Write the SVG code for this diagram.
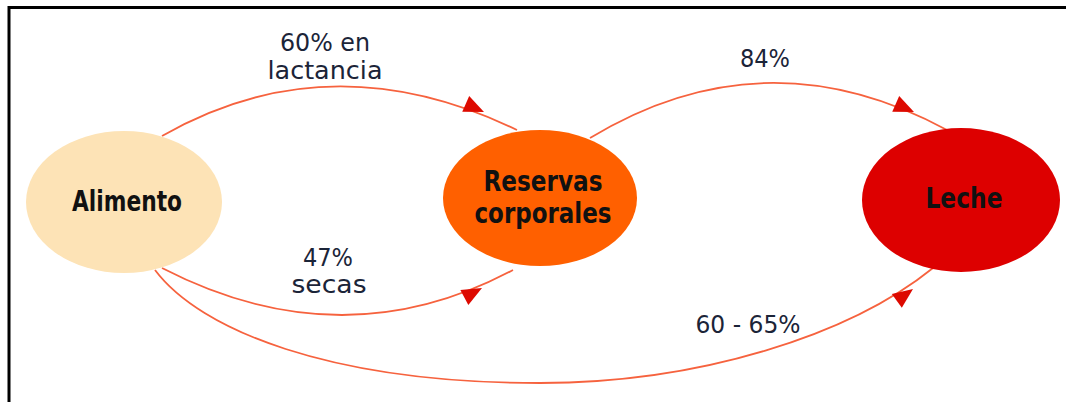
<svg xmlns="http://www.w3.org/2000/svg" xmlns:xlink="http://www.w3.org/1999/xlink" width="1066" height="402" viewBox="0 0 1066 402">
  <style>
    .frame { stroke: #000; stroke-width: 3; fill: none; }
    .conn { fill: none; stroke: #F6623E; stroke-width: 1.8; }
    .ah { fill: #DD0A00; }
    .lbl { font-family: "DejaVu Sans Condensed", "DejaVu Sans", sans-serif; font-stretch: condensed; font-size: 25px; fill: #1B2438; text-anchor: middle; }
    .nlbl { font-family: "DejaVu Sans Condensed", "DejaVu Sans", sans-serif; font-stretch: condensed; font-weight: bold; font-size: 28px; fill: #111; text-anchor: middle; }
  </style>
  <defs>
    <polygon id="ah" class="ah" points="0,0 -20,-8.5 -20,8.5"/>
  </defs>
  <rect x="0" y="0" width="1066" height="402" fill="#fff"/>
  <path class="frame" d="M9,402 V7.5 H1066"/>

  <g id="connectors">
    <path class="conn" d="M162,136 Q330,40 517,130"/>
    <use xlink:href="#ah" href="#ah" transform="translate(484,112) rotate(24)"/>
    <path class="conn" d="M590,138 Q765,32 947,130"/>
    <use xlink:href="#ah" href="#ah" transform="translate(914,112) rotate(24)"/>
    <path class="conn" d="M162,268 Q342.5,361 513,270"/>
    <use xlink:href="#ah" href="#ah" transform="translate(482,288) rotate(-28)"/>
    <path class="conn" d="M155,270 C200,330 330,383 540,383 C700,383 850,335 933,268"/>
    <use xlink:href="#ah" href="#ah" transform="translate(913,289) rotate(-36)"/>
  </g>

  <g id="labels">
    <text class="lbl" x="325" y="51" textLength="90" lengthAdjust="spacingAndGlyphs">60% en</text>
    <text class="lbl" x="325" y="79" textLength="115" lengthAdjust="spacingAndGlyphs">lactancia</text>
    <text class="lbl" x="765" y="67" textLength="50" lengthAdjust="spacingAndGlyphs">84%</text>
    <text class="lbl" x="328" y="266" textLength="50" lengthAdjust="spacingAndGlyphs">47%</text>
    <text class="lbl" x="329" y="293" textLength="75" lengthAdjust="spacingAndGlyphs">secas</text>
    <text class="lbl" x="748" y="333" textLength="105" lengthAdjust="spacingAndGlyphs">60 - 65%</text>
  </g>

  <g id="node-alimento">
    <ellipse cx="124" cy="202" rx="98" ry="71" fill="#FDE3B6"/>
    <text class="nlbl" x="127" y="211" textLength="110" lengthAdjust="spacingAndGlyphs">Alimento</text>
  </g>
  <g id="node-reservas">
    <ellipse cx="540" cy="198" rx="97" ry="68" fill="#FF6000"/>
    <text class="nlbl" x="543" y="191" textLength="119" lengthAdjust="spacingAndGlyphs">Reservas</text>
    <text class="nlbl" x="543" y="223" textLength="137" lengthAdjust="spacingAndGlyphs">corporales</text>
  </g>
  <g id="node-leche">
    <ellipse cx="961" cy="200" rx="99" ry="72" fill="#DD0000"/>
    <text class="nlbl" x="964" y="208" textLength="77" lengthAdjust="spacingAndGlyphs">Leche</text>
  </g>
</svg>
